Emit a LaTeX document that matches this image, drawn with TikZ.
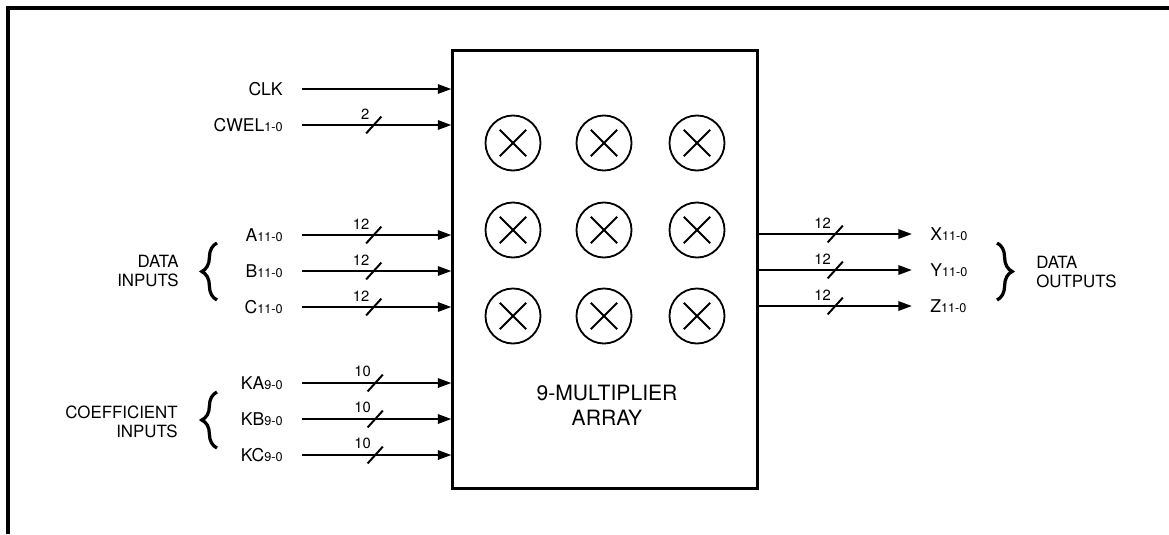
\documentclass[tikz,border=0pt]{standalone}
\usepackage{fontspec}
\setmainfont{TeX Gyre Heros}
\usetikzlibrary{arrows.meta, positioning, decorations.markings, decorations.pathreplacing}
\newcommand{\bitrange}[1]{{\fontsize{9}{10}\selectfont #1}}
\tikzset{
    sig/.style={line width=1.7pt, -{Triangle[length=3.4mm, width=2.3mm]}},
    bus/.style 2 args={sig, postaction={decorate}, decoration={markings, mark=at position #1 with {
        \draw[line width=1.4pt, -] (-0.19cm,-0.21cm) -- (0.19cm,0.21cm);
        \node[anchor=south east, inner sep=0pt, font=\fontsize{10.5}{12}\selectfont] at (-0.08cm,0.12cm) {#2};}}},
    pinlbl/.style={anchor=east, inner xsep=0.475cm, inner ysep=0pt, font=\fontsize{12.5}{14}\selectfont},
    outlbl/.style={anchor=west, inner xsep=0.45cm, inner ysep=0pt, font=\fontsize{12.5}{14}\selectfont},
    grplbl/.style={inner sep=0pt, font=\fontsize{12}{13.5}\selectfont},
    mult/.style={circle, draw, line width=1.3pt, minimum size=1.375cm, path picture={
        \draw[line width=1.3pt] ([shift={(-0.33cm,-0.33cm)}]path picture bounding box.center) -- ([shift={(0.33cm,0.33cm)}]path picture bounding box.center);
        \draw[line width=1.3pt] ([shift={(-0.33cm,0.33cm)}]path picture bounding box.center) -- ([shift={(0.33cm,-0.33cm)}]path picture bounding box.center);}},
    grpbrace/.style={decorate, decoration={brace, amplitude=0.38cm}, line width=2.3pt}
}
\begin{document}
\begin{tikzpicture}[x=0.025cm, y=-0.025cm]
    \useasboundingbox (0,0) rectangle (1169,534);

    % Frame
    \draw[line width=2.5pt] (8,534) -- (8,8) -- (1169,8);

    % Multiplier array
    \node[draw, line width=2.1pt, minimum width=7.6cm, minimum height=10.925cm, inner sep=0pt] (mularray) at (605,269.5) {};
    \foreach \col/\x in {1/513, 2/604, 3/697}
        \foreach \row/\y in {1/143, 2/230, 3/316}
            \node[mult] (m\row\col) at (\x,\y) {};
    \node[font=\fontsize{15}{18}\selectfont, align=center] (mularraytxt) at (607,405) {9-MULTIPLIER\\ARRAY};

    % Inputs
    \node[pinlbl] (clk) at (302,89) {CLK};
    \node[pinlbl] (cwel) at (302,125) {CWEL\bitrange{1-0}};
    \node[pinlbl] (ain) at (302,235) {A\bitrange{11-0}};
    \node[pinlbl] (bin) at (302,271) {B\bitrange{11-0}};
    \node[pinlbl] (cin) at (302,307) {C\bitrange{11-0}};
    \node[pinlbl] (kain) at (302,383) {KA\bitrange{9-0}};
    \node[pinlbl] (kbin) at (302,419) {KB\bitrange{9-0}};
    \node[pinlbl] (kcin) at (302,455) {KC\bitrange{9-0}};

    \draw[sig] (clk) -- (clk -| mularray.west);
    \draw[bus={0.48}{2}] (cwel) -- (cwel -| mularray.west);
    \foreach \n in {ain, bin, cin}
        \draw[bus={0.48}{12}] (\n) -- (\n -| mularray.west);
    \foreach \n in {kain, kbin, kcin}
        \draw[bus={0.49}{10}] (\n) -- (\n -| mularray.west);

    % Outputs
    \node[outlbl] (xout) at (912,234) {X\bitrange{11-0}};
    \node[outlbl] (yout) at (912,270) {Y\bitrange{11-0}};
    \node[outlbl] (zout) at (912,306) {Z\bitrange{11-0}};
    \foreach \n in {xout, yout, zout}
        \draw[bus={0.5}{12}] (mularray.east |- \n) -- (\n);

    % Groups
    \draw[grpbrace] (217,300) -- (217,243);
    \draw[grpbrace] (217,448) -- (217,392);
    \draw[grpbrace] (997,243) -- (997,300);
    \node[grplbl, anchor=east, align=right] (datain) at (179,271) {DATA\\INPUTS};
    \node[grplbl, anchor=east, align=right] (coefin) at (178,422) {COEFFICIENT\\INPUTS};
    \node[grplbl, anchor=west, align=left] (dataout) at (1036,272) {DATA\\OUTPUTS};
\end{tikzpicture}
\end{document}
